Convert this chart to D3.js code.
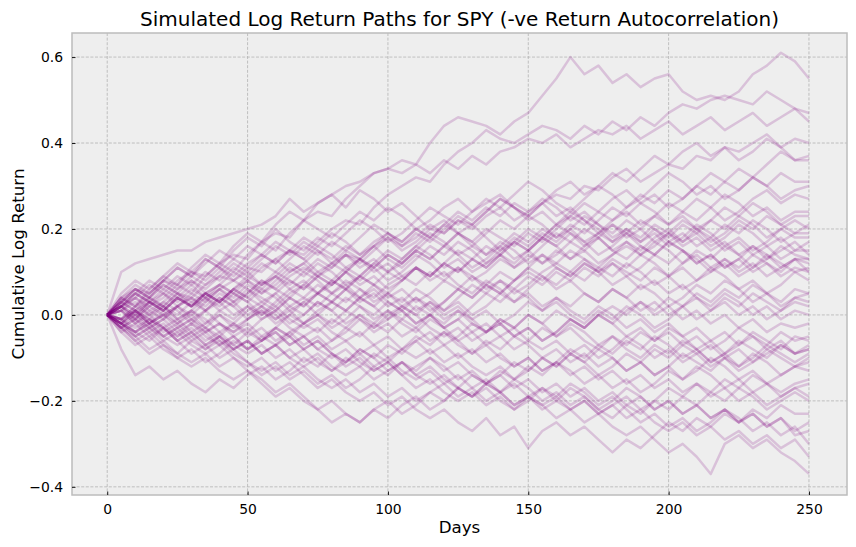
<!DOCTYPE html>
<html>
<head>
<meta charset="utf-8">
<script src="https://cdn.jsdelivr.net/npm/d3@7/dist/d3.min.js"></script>
<style>
  html, body { margin: 0; padding: 0; background: #ffffff; }
  svg { display: block; }
  text { font-family: "DejaVu Sans", sans-serif; fill: #000; }
</style>
</head>
<body>
<svg id="chart" width="856" height="547"></svg>
<script>
// ---------------- DATA ----------------
const chartTitle = "Simulated Log Return Paths for SPY (-ve Return Autocorrelation)";
const xLabel = "Days";
const yLabel = "Cumulative Log Return";
const xTicks = [0, 50, 100, 150, 200, 250];
const yTicks = [-0.4, -0.2, 0.0, 0.2, 0.4, 0.6];
const sampleStep = 5; // one value every 5 trading days, day 0 .. 250

// cumulative log return of each simulated path, every 5 days
const simulatedPaths = [
[0,.04,.06,.05,.08,.07,.10,.09,.12,.14,.13,.17,.19,.18,.22,.24,.23,.27,.30,.33,.34,.36,.35,.40,.44,.46,.45,.44,.42,.45,.47,.51,.55,.60,.56,.58,.54,.56,.53,.55,.56,.52,.50,.51,.50,.52,.56,.58,.61,.59,.55],
[0,-.02,.01,.03,.02,.05,.04,.07,.09,.08,.11,.10,.13,.15,.14,.17,.20,.22,.21,.25,.28,.30,.32,.31,.35,.38,.40,.43,.41,.40,.42,.44,.43,.41,.44,.42,.45,.43,.46,.44,.47,.49,.48,.50,.51,.50,.49,.52,.50,.48,.47],
[0,.10,.12,.13,.14,.15,.15,.17,.18,.19,.20,.21,.23,.27,.24,.26,.28,.30,.31,.33,.34,.33,.35,.33,.36,.34,.37,.35,.38,.39,.41,.40,.42,.39,.41,.43,.42,.44,.41,.43,.45,.42,.44,.46,.43,.45,.47,.44,.46,.48,.45],
[0,.02,-.01,.03,.05,.02,.04,.01,.03,.06,.08,.05,.07,.10,.12,.09,.11,.14,.13,.16,.18,.15,.17,.20,.19,.22,.21,.24,.27,.25,.23,.26,.28,.27,.30,.29,.32,.34,.31,.33,.35,.34,.37,.36,.39,.38,.40,.42,.39,.41,.40],
[0,-.03,-.01,.02,.04,.07,.05,.09,.12,.10,.14,.17,.15,.19,.22,.20,.18,.21,.24,.22,.25,.23,.20,.22,.25,.27,.24,.26,.28,.25,.23,.26,.29,.31,.28,.30,.33,.31,.34,.37,.35,.38,.40,.37,.39,.36,.38,.41,.39,.36,.37],
[0,.03,.06,.04,.08,.11,.09,.13,.11,.15,.18,.16,.20,.17,.15,.18,.16,.19,.22,.20,.17,.19,.22,.25,.23,.21,.24,.27,.25,.28,.31,.29,.26,.24,.27,.30,.28,.25,.27,.30,.33,.31,.28,.30,.27,.29,.32,.30,.33,.31,.31],
[0,-.01,.02,0,.03,.01,-.02,.01,.04,.02,.05,.08,.06,.04,.07,.10,.08,.11,.09,.12,.15,.13,.16,.19,.17,.14,.16,.19,.22,.20,.23,.21,.18,.20,.17,.19,.22,.24,.21,.23,.26,.24,.27,.25,.22,.24,.27,.29,.26,.28,.27],
[0,.04,.02,.06,.09,.07,.11,.14,.12,.16,.19,.17,.21,.24,.22,.26,.28,.25,.29,.27,.24,.26,.23,.20,.22,.19,.21,.18,.15,.17,.20,.18,.21,.24,.22,.19,.21,.18,.20,.23,.21,.24,.22,.25,.28,.26,.23,.25,.22,.24,.24],
[0,.02,.05,.03,.01,.04,.02,.05,.03,.06,.04,.02,.05,.08,.06,.09,.07,.10,.13,.11,.08,.10,.13,.16,.14,.17,.15,.12,.14,.11,.13,.16,.19,.17,.20,.18,.15,.17,.14,.16,.19,.22,.20,.17,.19,.22,.20,.23,.21,.19,.21],
[0,-.02,-.05,-.03,-.01,.02,0,.03,.06,.04,.07,.05,.08,.11,.09,.12,.10,.07,.09,.12,.10,.13,.16,.14,.11,.13,.10,.12,.15,.18,.16,.19,.17,.20,.23,.21,.18,.20,.17,.19,.16,.18,.21,.19,.16,.18,.15,.17,.20,.18,.18],
[0,.03,.01,.04,.07,.05,.08,.06,.09,.12,.10,.07,.09,.06,.08,.05,.07,.10,.08,.11,.14,.12,.15,.13,.16,.19,.17,.14,.16,.13,.15,.12,.14,.17,.15,.18,.21,.19,.22,.20,.17,.19,.16,.18,.15,.17,.14,.16,.13,.15,.15],
[0,.01,-.02,0,-.03,-.01,-.04,-.02,.01,-.01,.02,0,.03,.06,.04,.07,.05,.08,.06,.03,.05,.08,.11,.09,.12,.10,.13,.16,.14,.17,.15,.18,.21,.19,.16,.18,.15,.13,.16,.14,.17,.15,.12,.14,.11,.13,.16,.14,.11,.13,.13],
[0,-.03,0,-.02,.01,.04,.02,.05,.03,0,.02,-.01,.01,.04,.02,.05,.08,.06,.09,.07,.04,.06,.03,.05,.08,.06,.09,.07,.10,.08,.11,.14,.12,.15,.13,.10,.12,.09,.11,.14,.12,.15,.13,.10,.12,.09,.11,.14,.12,.10,.11],
[0,.02,.04,.01,.03,.06,.08,.05,.07,.10,.08,.11,.13,.10,.12,.15,.13,.16,.14,.17,.19,.16,.18,.21,.19,.22,.20,.23,.25,.22,.24,.26,.23,.25,.22,.20,.17,.19,.16,.14,.17,.15,.12,.14,.11,.13,.10,.12,.09,.11,.10],
[0,-.01,.01,-.02,0,.02,-.01,.01,-.02,-.04,-.02,-.05,-.03,0,-.02,.01,.03,.01,.04,.02,.05,.03,.06,.04,.01,.03,0,.02,.05,.03,.06,.09,.07,.10,.08,.11,.09,.12,.10,.07,.09,.06,.08,.11,.09,.06,.08,.05,.07,.10,.08],
[0,.03,.06,.04,.07,.05,.02,.04,.01,.03,0,.02,-.01,.01,-.02,0,.03,.01,.04,.02,-.01,.01,-.02,0,.03,.06,.04,.07,.05,.08,.11,.09,.06,.08,.05,.03,.06,.04,.07,.05,.02,.04,.07,.05,.08,.06,.03,.05,.02,.04,.05],
[0,-.02,-.04,-.06,-.03,-.05,-.02,-.04,-.07,-.05,-.08,-.06,-.03,-.05,-.02,0,-.03,-.01,.02,0,.03,.01,-.02,0,-.03,-.01,.02,.05,.03,.06,.04,.01,.03,0,-.02,.01,-.01,.02,0,-.03,-.01,.02,.04,.01,.03,0,.02,-.01,.01,.03,.02],
[0,.02,.05,.03,.06,.04,.07,.10,.08,.11,.09,.12,.10,.13,.16,.14,.17,.15,.18,.21,.19,.17,.20,.18,.21,.19,.16,.14,.17,.15,.12,.14,.11,.09,.12,.10,.07,.09,.06,.08,.05,.07,.04,.02,.05,.03,0,.02,-.01,.01,0],
[0,.01,-.01,.02,0,-.03,-.01,-.04,-.02,-.05,-.03,-.06,-.04,-.07,-.05,-.08,-.06,-.03,-.05,-.02,-.04,-.01,-.03,0,-.02,.01,-.01,-.04,-.02,-.05,-.03,-.06,-.04,-.01,-.03,0,-.02,.01,.03,0,.02,-.01,.01,-.02,0,-.03,-.01,-.04,-.02,-.03,-.02],
[0,-.03,-.06,-.04,-.07,-.09,-.06,-.08,-.05,-.07,-.04,-.06,-.03,-.05,-.08,-.06,-.09,-.11,-.08,-.10,-.07,-.09,-.06,-.04,-.07,-.05,-.02,-.04,-.01,-.03,0,-.02,.01,-.01,-.03,0,-.02,-.05,-.03,-.06,-.04,-.07,-.05,-.08,-.06,-.03,-.05,-.07,-.04,-.06,-.05],
[0,.04,.02,.05,.08,.06,.09,.07,.10,.13,.11,.14,.12,.15,.13,.16,.14,.11,.13,.10,.12,.09,.11,.08,.10,.07,.05,.08,.06,.03,.05,.02,.04,.01,-.01,.02,0,-.03,-.01,-.04,-.02,-.05,-.03,-.06,-.04,-.07,-.05,-.08,-.06,-.09,-.07],
[0,-.02,.01,-.01,-.04,-.02,-.05,-.03,-.06,-.08,-.06,-.09,-.07,-.10,-.08,-.11,-.13,-.10,-.12,-.09,-.11,-.08,-.06,-.09,-.07,-.10,-.08,-.11,-.09,-.12,-.10,-.13,-.11,-.08,-.10,-.07,-.09,-.06,-.08,-.05,-.07,-.10,-.08,-.11,-.09,-.06,-.08,-.10,-.07,-.09,-.08],
[0,.02,0,.03,.01,-.02,0,-.03,-.05,-.02,-.04,-.01,.01,-.02,0,.03,.01,.04,.02,-.01,.01,-.02,-.04,-.01,-.03,-.06,-.04,-.07,-.05,-.08,-.06,-.03,-.05,-.02,-.04,-.07,-.05,-.08,-.10,-.07,-.09,-.06,-.08,-.11,-.09,-.12,-.10,-.07,-.09,-.11,-.09],
[0,-.04,-.02,-.05,-.03,-.06,-.09,-.07,-.10,-.08,-.11,-.14,-.12,-.15,-.13,-.16,-.14,-.17,-.15,-.12,-.14,-.11,-.13,-.10,-.12,-.15,-.13,-.16,-.14,-.11,-.13,-.10,-.12,-.09,-.11,-.14,-.12,-.09,-.11,-.08,-.10,-.07,-.09,-.12,-.10,-.13,-.11,-.08,-.10,-.12,-.10],
[0,.01,.03,0,.02,-.01,.01,.04,.02,.05,.03,.06,.04,.01,.03,0,-.02,.01,-.01,-.04,-.02,-.05,-.03,-.06,-.04,-.07,-.09,-.06,-.08,-.05,-.07,-.10,-.08,-.11,-.09,-.12,-.10,-.13,-.11,-.14,-.12,-.15,-.13,-.10,-.12,-.15,-.13,-.16,-.14,-.12,-.13],
[0,-.08,-.14,-.12,-.15,-.13,-.16,-.18,-.15,-.17,-.14,-.12,-.15,-.13,-.10,-.12,-.09,-.11,-.08,-.10,-.13,-.11,-.14,-.12,-.15,-.17,-.14,-.16,-.13,-.15,-.12,-.14,-.11,-.13,-.16,-.14,-.17,-.15,-.18,-.16,-.13,-.15,-.12,-.14,-.17,-.15,-.18,-.16,-.19,-.17,-.16],
[0,-.03,-.05,-.08,-.06,-.09,-.11,-.09,-.12,-.10,-.13,-.15,-.18,-.16,-.19,-.22,-.20,-.23,-.25,-.22,-.24,-.21,-.19,-.22,-.20,-.17,-.19,-.16,-.18,-.15,-.17,-.20,-.18,-.21,-.19,-.22,-.20,-.17,-.19,-.22,-.20,-.23,-.21,-.18,-.20,-.17,-.19,-.22,-.20,-.18,-.20],
[0,-.02,-.05,-.03,-.06,-.04,-.07,-.09,-.07,-.10,-.12,-.10,-.13,-.11,-.14,-.17,-.15,-.18,-.20,-.18,-.21,-.19,-.22,-.24,-.22,-.25,-.27,-.24,-.28,-.26,-.31,-.27,-.25,-.28,-.26,-.29,-.32,-.29,-.31,-.28,-.25,-.27,-.24,-.26,-.23,-.25,-.22,-.24,-.21,-.23,-.23],
[0,.02,-.01,-.03,-.01,-.04,-.02,-.05,-.07,-.05,-.08,-.06,-.04,-.07,-.05,-.08,-.10,-.08,-.11,-.13,-.11,-.14,-.12,-.10,-.13,-.11,-.14,-.16,-.14,-.17,-.15,-.18,-.16,-.19,-.17,-.20,-.18,-.21,-.19,-.22,-.20,-.23,-.21,-.24,-.22,-.25,-.23,-.26,-.24,-.28,-.27],
[0,-.03,-.01,-.04,-.02,-.05,-.03,-.06,-.04,-.07,-.09,-.07,-.10,-.08,-.11,-.09,-.12,-.14,-.12,-.15,-.13,-.11,-.14,-.16,-.14,-.17,-.19,-.17,-.20,-.22,-.19,-.21,-.24,-.22,-.25,-.23,-.26,-.28,-.26,-.29,-.32,-.30,-.33,-.37,-.30,-.28,-.31,-.29,-.32,-.34,-.37],
[0,-.01,-.04,-.02,-.05,-.07,-.05,-.08,-.06,-.09,-.11,-.13,-.11,-.14,-.12,-.15,-.17,-.15,-.18,-.16,-.19,-.17,-.20,-.18,-.16,-.19,-.17,-.20,-.18,-.21,-.19,-.17,-.20,-.22,-.20,-.23,-.21,-.24,-.22,-.25,-.27,-.25,-.28,-.26,-.29,-.27,-.30,-.28,-.31,-.29,-.33],
[0,.01,.04,.02,.05,.03,.06,.04,.07,.05,.08,.06,.09,.12,.10,.13,.11,.14,.12,.15,.18,.16,.19,.17,.20,.23,.21,.24,.27,.25,.22,.24,.21,.23,.26,.24,.27,.29,.26,.28,.25,.27,.30,.28,.31,.29,.32,.30,.27,.29,.30],
[0,-.02,-.04,-.02,-.05,-.03,-.01,-.03,0,-.02,.01,.03,.01,.04,.02,.05,.03,.06,.09,.07,.10,.08,.11,.09,.12,.15,.13,.11,.14,.12,.15,.18,.16,.19,.17,.14,.16,.19,.17,.20,.18,.21,.19,.22,.20,.23,.21,.18,.20,.22,.20],
[0,.03,.05,.08,.06,.09,.07,.04,.06,.03,.05,.08,.06,.09,.11,.09,.12,.10,.07,.09,.06,.08,.11,.09,.12,.10,.13,.11,.14,.17,.15,.18,.16,.13,.15,.12,.14,.17,.15,.18,.20,.17,.19,.16,.18,.21,.19,.16,.18,.15,.17],
[0,-.01,.02,.04,.02,.05,.03,.01,.04,.02,-.01,.01,-.02,0,.03,.05,.03,.06,.04,.07,.05,.02,.04,.01,.03,.06,.04,.07,.05,.08,.10,.08,.11,.09,.12,.10,.13,.11,.14,.12,.09,.11,.08,.10,.13,.11,.14,.12,.10,.13,.12],
[0,.03,.01,-.02,0,.02,.05,.03,.06,.08,.06,.03,.05,.02,0,.03,.01,-.02,0,-.03,-.01,.02,0,-.03,-.05,-.03,-.06,-.04,-.01,-.03,0,-.02,-.05,-.03,-.06,-.08,-.05,-.07,-.04,-.06,-.03,-.05,-.08,-.06,-.09,-.07,-.04,-.06,-.08,-.05,-.06],
[0,-.04,-.07,-.05,-.08,-.10,-.08,-.11,-.09,-.06,-.08,-.05,-.07,-.04,-.02,-.04,-.01,-.03,0,-.02,.01,-.01,.02,0,-.03,-.01,-.04,-.02,-.05,-.03,-.06,-.08,-.06,-.09,-.07,-.10,-.08,-.05,-.07,-.10,-.08,-.11,-.09,-.07,-.10,-.08,-.11,-.09,-.07,-.09,-.08],
[0,.02,.04,.07,.05,.08,.10,.08,.11,.09,.12,.14,.12,.15,.13,.10,.12,.15,.13,.16,.19,.17,.20,.18,.21,.24,.22,.25,.23,.26,.24,.27,.25,.22,.24,.21,.19,.22,.20,.17,.19,.16,.18,.15,.17,.14,.16,.13,.15,.17,.14],
[0,-.02,.01,-.01,-.03,-.06,-.04,-.07,-.05,-.08,-.06,-.09,-.07,-.10,-.12,-.10,-.13,-.11,-.09,-.12,-.10,-.13,-.15,-.13,-.16,-.14,-.17,-.15,-.18,-.16,-.19,-.21,-.19,-.22,-.20,-.23,-.21,-.19,-.22,-.20,-.17,-.19,-.16,-.18,-.15,-.17,-.14,-.16,-.18,-.16,-.15],
[0,.01,-.02,.01,-.01,.02,.04,.02,.05,.03,.06,.04,.02,.05,.07,.05,.08,.06,.03,.05,.02,.04,.01,.03,0,.02,-.01,.01,-.02,0,.03,.01,.04,.02,.05,.03,.06,.04,.01,.03,0,.02,-.01,.01,.04,.02,.05,.03,.01,.04,.03],
[0,-.02,0,-.03,-.05,-.03,-.06,-.04,-.02,-.04,-.01,.01,-.01,.02,.04,.02,.05,.03,.06,.04,.07,.09,.07,.10,.08,.11,.09,.06,.08,.05,.07,.10,.12,.10,.13,.11,.14,.16,.14,.17,.15,.12,.14,.11,.13,.10,.12,.09,.11,.13,.10],
[0,-.03,-.06,-.09,-.07,-.10,-.12,-.10,-.13,-.15,-.13,-.16,-.19,-.17,-.20,-.22,-.25,-.23,-.25,-.22,-.20,-.23,-.21,-.18,-.20,-.17,-.19,-.16,-.18,-.21,-.19,-.22,-.20,-.17,-.19,-.22,-.24,-.21,-.23,-.20,-.22,-.19,-.21,-.24,-.22,-.25,-.23,-.26,-.24,-.27,-.25],
[0,.05,.08,.06,.09,.12,.10,.13,.11,.08,.10,.13,.16,.14,.17,.15,.12,.14,.11,.13,.10,.12,.15,.13,.16,.14,.11,.13,.16,.19,.17,.20,.18,.21,.19,.22,.25,.23,.26,.24,.21,.23,.20,.22,.25,.23,.26,.24,.21,.23,.23],
[0,.02,.05,.03,.01,.04,.02,.05,.07,.05,.03,0,.02,-.01,-.03,-.01,-.04,-.06,-.04,-.07,-.05,-.08,-.10,-.08,-.11,-.09,-.12,-.14,-.12,-.15,-.13,-.10,-.12,-.09,-.11,-.08,-.10,-.13,-.11,-.14,-.12,-.09,-.11,-.13,-.10,-.12,-.09,-.11,-.14,-.12,-.11],
[0,-.01,-.03,-.01,.02,0,.03,.05,.03,.06,.04,.07,.09,.07,.10,.08,.05,.07,.04,.06,.03,.01,.04,.02,-.01,.01,-.02,-.04,-.02,-.05,-.03,-.06,-.04,-.01,-.03,0,.02,0,.03,.01,.04,.02,.05,.03,.06,.04,.07,.05,.03,.06,.05],
[0,.02,0,.03,.01,.04,.02,.05,.03,.06,.09,.07,.10,.08,.06,.09,.07,.10,.13,.11,.14,.12,.15,.18,.16,.19,.17,.20,.18,.16,.19,.17,.20,.23,.21,.24,.22,.25,.28,.26,.29,.27,.30,.33,.31,.34,.32,.35,.38,.36,.36],
[0,-.02,-.04,-.01,-.03,-.06,-.04,-.07,-.05,-.08,-.06,-.09,-.07,-.05,-.08,-.06,-.09,-.12,-.10,-.13,-.11,-.14,-.17,-.15,-.18,-.20,-.18,-.21,-.19,-.22,-.20,-.17,-.19,-.16,-.18,-.21,-.19,-.22,-.25,-.23,-.26,-.24,-.27,-.25,-.22,-.24,-.27,-.25,-.28,-.26,-.30],
[0,.03,.06,.04,.02,-.01,.01,-.02,0,-.03,-.01,.02,0,-.03,-.05,-.03,-.06,-.04,-.01,-.03,0,.02,0,.03,.01,.04,.07,.05,.08,.06,.09,.07,.10,.08,.11,.09,.12,.10,.08,.11,.09,.12,.15,.13,.16,.14,.11,.13,.16,.14,.13],
[0,-.01,.01,-.02,0,-.02,.01,-.01,-.04,-.02,-.05,-.03,-.06,-.04,-.07,-.05,-.08,-.06,-.09,-.07,-.10,-.08,-.05,-.07,-.04,-.06,-.09,-.07,-.10,-.12,-.10,-.13,-.11,-.14,-.12,-.15,-.13,-.16,-.14,-.17,-.15,-.18,-.16,-.19,-.17,-.20,-.18,-.21,-.19,-.17,-.19],
[0,.04,.07,.05,.08,.11,.09,.12,.15,.13,.16,.14,.17,.15,.18,.16,.19,.17,.14,.16,.13,.11,.14,.12,.09,.11,.08,.10,.13,.11,.14,.12,.15,.13,.16,.19,.17,.20,.18,.21,.19,.17,.20,.18,.21,.19,.22,.20,.17,.19,.19]
];

// ---------------- LAYOUT ----------------
const W = 856, H = 547;
const plot = { left: 72, right: 847, top: 33, bottom: 495 };
const lineColor = "#800080";

const svg = d3.select("#chart");

const x = d3.scaleLinear().domain([-12.55, 263.55]).range([plot.left, plot.right]);
const y = d3.scaleLinear().domain([-0.419, 0.656]).range([plot.bottom, plot.top]);

// background
svg.append("rect").attr("x", 0).attr("y", 0).attr("width", W).attr("height", H).attr("fill", "#ffffff");
svg.append("rect")
  .attr("x", plot.left).attr("y", plot.top)
  .attr("width", plot.right - plot.left).attr("height", plot.bottom - plot.top)
  .attr("fill", "#eeeeee");

// grid
const grid = svg.append("g").attr("class", "grid");
grid.selectAll("line.gx").data(xTicks).join("line")
  .attr("x1", d => x(d)).attr("x2", d => x(d))
  .attr("y1", plot.top).attr("y2", plot.bottom)
  .attr("stroke", "#b2b2b2").attr("stroke-width", 0.8).attr("stroke-dasharray", "3,1.6");
grid.selectAll("line.gy").data(yTicks).join("line")
  .attr("x1", plot.left).attr("x2", plot.right)
  .attr("y1", d => y(d)).attr("y2", d => y(d))
  .attr("stroke", "#b2b2b2").attr("stroke-width", 0.8).attr("stroke-dasharray", "3,1.6");

// clip
svg.append("clipPath").attr("id", "clip").append("rect")
  .attr("x", plot.left).attr("y", plot.top)
  .attr("width", plot.right - plot.left).attr("height", plot.bottom - plot.top);

// paths
const line = d3.line()
  .x((d, i) => x(i * sampleStep))
  .y(d => y(d));

svg.append("g").attr("clip-path", "url(#clip)")
  .selectAll("path").data(simulatedPaths).join("path")
  .attr("d", line)
  .attr("fill", "none")
  .attr("stroke", lineColor)
  .attr("stroke-opacity", 0.19)
  .attr("stroke-width", 2.5)
  .attr("stroke-linejoin", "round");

// spine
svg.append("rect")
  .attr("x", plot.left).attr("y", plot.top)
  .attr("width", plot.right - plot.left).attr("height", plot.bottom - plot.top)
  .attr("fill", "none").attr("stroke", "#bcbcbc").attr("stroke-width", 1.5);

// axes
const fmtY = d => d3.format(".1f")(d).replace("-", "\u2212");
const xAxis = d3.axisBottom(x).tickValues(xTicks).tickSize(-3.5).tickPadding(9).tickFormat(d3.format("d"));
const yAxis = d3.axisLeft(y).tickValues(yTicks).tickSize(-3.5).tickPadding(9).tickFormat(fmtY);

const gx = svg.append("g").attr("transform", `translate(0,${plot.bottom})`).call(xAxis);
const gy = svg.append("g").attr("transform", `translate(${plot.left},0)`).call(yAxis);
[gx, gy].forEach(g => {
  g.select(".domain").remove();
  g.selectAll(".tick line").attr("stroke", "#000").attr("stroke-width", 0.9);
  g.selectAll(".tick text").attr("font-size", "13.9px").attr("font-family", "DejaVu Sans, sans-serif").attr("fill", "#000");
});

// title and labels
svg.append("text")
  .attr("x", (plot.left + plot.right) / 2).attr("y", 26)
  .attr("text-anchor", "middle").attr("font-size", "20px")
  .text(chartTitle);

svg.append("text")
  .attr("x", (plot.left + plot.right) / 2).attr("y", 533)
  .attr("text-anchor", "middle").attr("font-size", "16.7px")
  .text(xLabel);

svg.append("text")
  .attr("transform", `translate(24,${(plot.top + plot.bottom) / 2}) rotate(-90)`)
  .attr("text-anchor", "middle").attr("font-size", "16.7px")
  .text(yLabel);
</script>
</body>
</html>
